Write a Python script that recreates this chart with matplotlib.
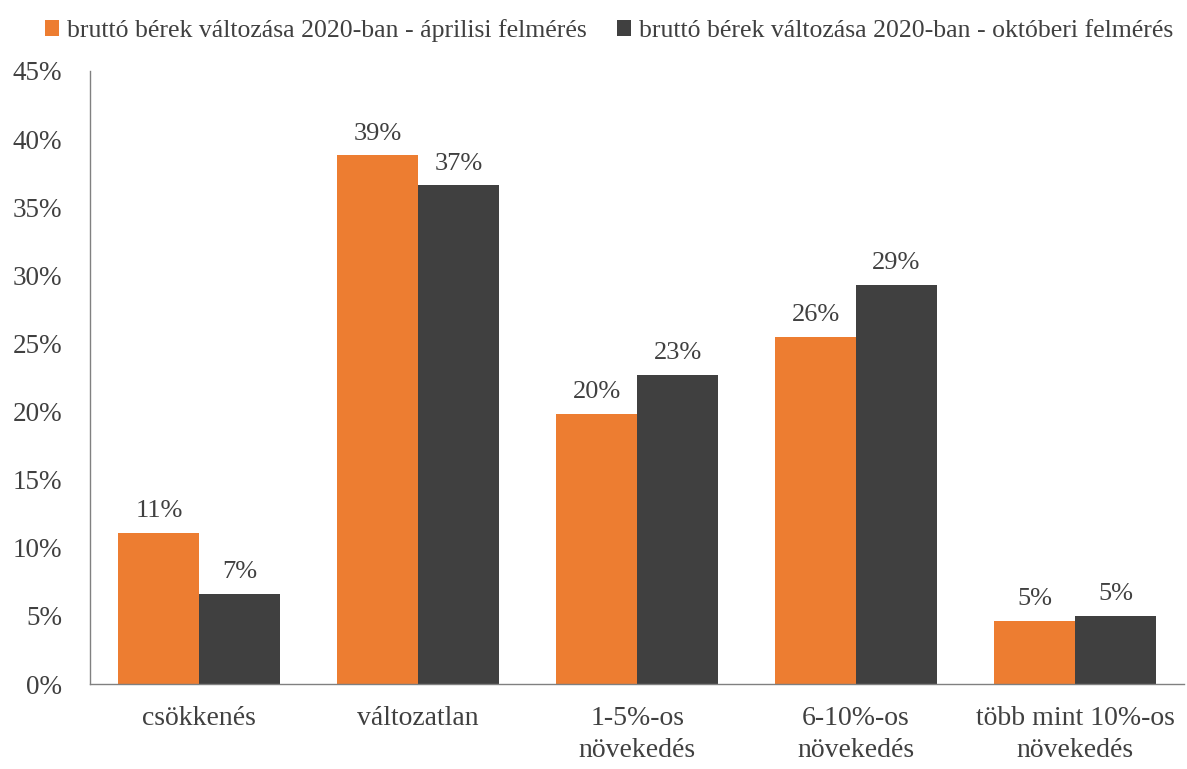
import numpy as np
import matplotlib.pyplot as plt

plt.rcParams['font.family'] = ['Liberation Serif', 'DejaVu Serif']

categories = ['csökkenés', 'változatlan', '1-5%-os\nnövekedés', '6-10%-os\nnövekedés', 'több mint 10%-os\nnövekedés']
april = [11.1, 38.8, 19.8, 25.5, 4.6]
october = [6.6, 36.6, 22.7, 29.3, 5.0]
series_names = ['bruttó bérek változása 2020-ban - áprilisi felmérés',
                'bruttó bérek változása 2020-ban - októberi felmérés']

text_color = '#404040'
orange = '#ED7D31'
dark = '#404040'

fig = plt.figure(figsize=(11.87, 7.69), dpi=100)
ax = fig.add_axes([0.0758, 0.1105, 0.922, 0.7972])

x = np.arange(len(categories))
w = 0.37
b1 = ax.bar(x - w / 2, april, w, color=orange, label=series_names[0])
b2 = ax.bar(x + w / 2, october, w, color=dark, label=series_names[1])

for bars, vals in ((b1, april), (b2, october)):
    for rect, v in zip(bars, vals):
        ax.text(rect.get_x() + rect.get_width() / 2, v + 0.8, f'{v:.0f}%',
                ha='center', va='bottom', fontsize=19, color=text_color)

ax.set_xlim(-0.5, 4.5)
ax.set_ylim(0, 45)
ax.set_yticks(np.arange(0, 46, 5))
ax.set_yticklabels([f'{t}%' for t in range(0, 46, 5)])
ax.set_xticks(x)
ax.set_xticklabels(categories, linespacing=1.35)
ax.tick_params(axis='y', length=0, labelsize=19.5, colors=text_color, pad=20)
ax.tick_params(axis='x', length=0, labelsize=20, colors=text_color, pad=16)

for s in ('top', 'right'):
    ax.spines[s].set_visible(False)
for s in ('left', 'bottom'):
    ax.spines[s].set_color('#808080')
    ax.spines[s].set_linewidth(1)

fig.legend(handles=[b1, b2], labels=series_names, loc='upper center',
           bbox_to_anchor=(0.513, 1.005), ncol=2, frameon=False, fontsize=18.5,
           handlelength=0.55, handleheight=0.55, handletextpad=0.3, columnspacing=1.2,
           labelcolor=text_color)

fig.savefig('out.png', dpi=100)
